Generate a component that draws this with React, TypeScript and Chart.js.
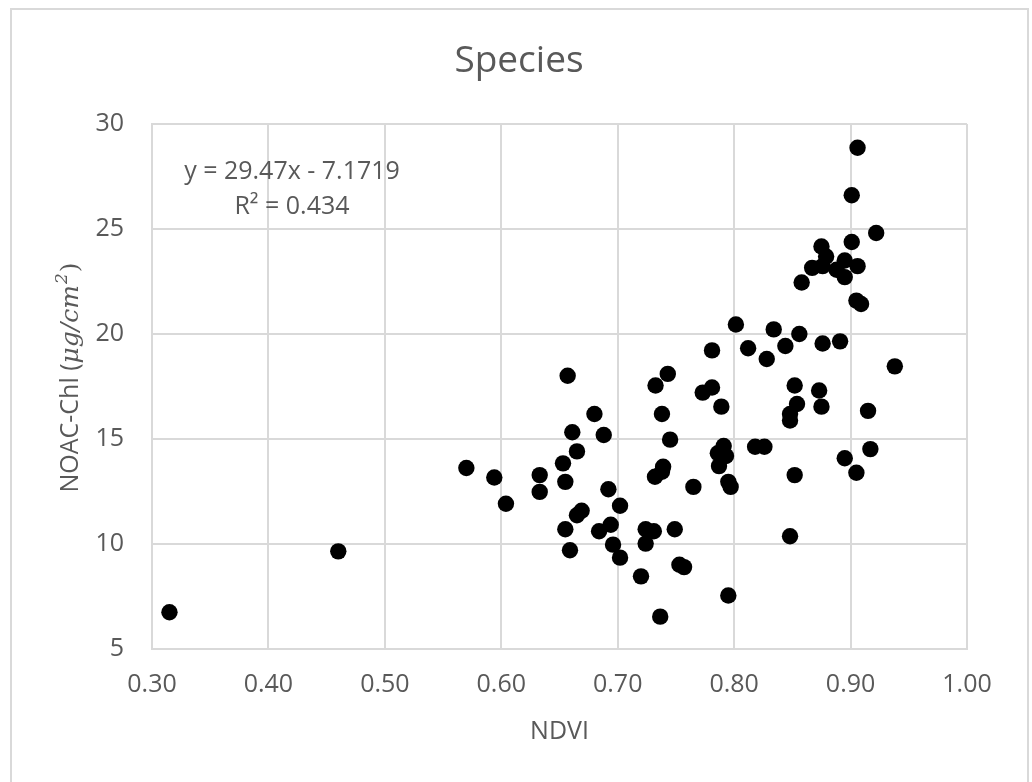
import React, { useEffect, useRef } from "react";
import { Chart, registerables } from "chart.js";

Chart.register(...registerables);

// ---- data ----
const ndvi: number[] = [
  0.315, 0.46, 0.57, 0.594, 0.604, 0.633, 0.633, 0.657, 0.68, 0.661,
  0.688, 0.665, 0.653, 0.655, 0.692, 0.702, 0.669, 0.665, 0.655, 0.684,
  0.694, 0.659, 0.696, 0.702, 0.72, 0.724, 0.731, 0.724, 0.749, 0.753,
  0.757, 0.7365, 0.795, 0.732, 0.738, 0.739, 0.765, 0.791, 0.786, 0.793,
  0.787, 0.795, 0.797, 0.818, 0.826, 0.895, 0.917, 0.905, 0.852, 0.848,
  0.743, 0.7325, 0.781, 0.773, 0.789, 0.852, 0.873, 0.854, 0.875, 0.848,
  0.848, 0.915, 0.738, 0.745, 0.938, 0.781, 0.812, 0.844, 0.876, 0.891,
  0.828, 0.8015, 0.834, 0.856, 0.906, 0.901, 0.922, 0.901, 0.875, 0.879,
  0.895, 0.906, 0.867, 0.876, 0.888, 0.895, 0.858, 0.905, 0.909,
];
const noac: number[] = [
  6.75, 9.65, 13.62, 13.17, 11.92, 13.28, 12.48, 18.01, 16.19, 15.32,
  15.19, 14.41, 13.84, 12.96, 12.61, 11.82, 11.58, 11.37, 10.7, 10.61,
  10.92, 9.7, 9.97, 9.35, 8.46, 10.7, 10.61, 10.02, 10.7, 9.01,
  8.9, 6.54, 7.55, 13.2, 13.44, 13.68, 12.72, 14.67, 14.32, 14.19,
  13.71, 12.96, 12.72, 14.63, 14.63, 14.08, 14.52, 13.39, 13.28, 10.37,
  18.1, 17.55, 17.45, 17.21, 16.54, 17.55, 17.31, 16.67, 16.54, 16.19,
  15.88, 16.34, 16.19, 14.97, 18.46, 19.22, 19.32, 19.43, 19.55, 19.65,
  18.81, 20.45, 20.22, 20.0, 28.87, 26.61, 24.81, 24.38, 24.17, 23.69,
  23.5, 23.23, 23.15, 23.23, 23.06, 22.71, 22.45, 21.59, 21.43,
];
const xTickValues: number[] = [0.3, 0.4, 0.5, 0.6, 0.7, 0.8, 0.9, 1.0];
const yTickValues: number[] = [5, 10, 15, 20, 25, 30];

const titleText = "Species";
const xTitleText = "NDVI";
const yTitlePlain = "NOAC-Chl (";
const yTitleMath = "μg/cm";
const yTitleSup = "2";
const yTitleClose = ")";
const equationLines: string[] = ["y = 29.47x - 7.1719", "R² = 0.434"];

const FONT = "'Open Sans', sans-serif";
const TEXT = "#595959";
const GRID = "#d9d9d9";

const decorPlugin = {
  id: "decor",
  beforeDraw(chart: any) {
    const ctx = chart.ctx;
    ctx.save();
    ctx.fillStyle = "#ffffff";
    ctx.fillRect(0, 0, chart.width, chart.height);
    ctx.strokeStyle = GRID;
    ctx.lineWidth = 2;
    ctx.strokeRect(11, 9, 1017, 800);
    ctx.restore();
  },
  afterDraw(chart: any) {
    const ctx = chart.ctx;
    ctx.save();
    ctx.fillStyle = TEXT;
    ctx.textBaseline = "alphabetic";
    ctx.textAlign = "center";
    ctx.font = `37px ${FONT}`;
    ctx.fillText(titleText, 519, 72);

    ctx.font = `25px ${FONT}`;
    ctx.fillText(equationLines[0], 292, 179);
    ctx.fillText(equationLines[1], 292, 214);

    // y-axis title with math part
    ctx.textAlign = "left";
    const fPlain = `25px ${FONT}`;
    const fMath = `italic 25px 'DejaVu Serif', serif`;
    const fSup = `italic 17px 'DejaVu Serif', serif`;
    const fClose = `25px 'DejaVu Serif', serif`;
    ctx.font = fPlain;
    const w1 = ctx.measureText(yTitlePlain).width;
    ctx.font = fMath;
    const w2 = ctx.measureText(yTitleMath).width;
    ctx.font = fSup;
    const w3 = ctx.measureText(yTitleSup).width + 2;
    ctx.font = fClose;
    const w4 = ctx.measureText(yTitleClose).width;
    const total = w1 + w2 + w3 + w4;
    const midY = (chart.chartArea.top + chart.chartArea.bottom) / 2 - 9;
    ctx.translate(78, midY);
    ctx.rotate(-Math.PI / 2);
    let x = -total / 2;
    ctx.font = fPlain;
    ctx.fillText(yTitlePlain, x, 0);
    x += w1;
    ctx.font = fMath;
    ctx.fillText(yTitleMath, x, 0);
    x += w2;
    ctx.font = fSup;
    ctx.fillText(yTitleSup, x + 1, -11);
    x += w3;
    ctx.font = fClose;
    ctx.fillText(yTitleClose, x, 0);
    ctx.restore();
  },
};

export default function App() {
  const canvasRef = useRef<HTMLCanvasElement | null>(null);

  useEffect(() => {
    if (!canvasRef.current) return;
    const points = ndvi.map((v, i) => ({ x: v, y: noac[i] }));
    const chart = new Chart(canvasRef.current, {
      type: "scatter",
      data: {
        datasets: [
          {
            label: "Species",
            data: points,
            backgroundColor: "#000000",
            borderColor: "#000000",
            borderWidth: 0,
            pointRadius: 8.2,
            pointHoverRadius: 8.2,
          },
        ],
      },
      options: {
        animation: false,
        responsive: true,
        maintainAspectRatio: false,
        layout: { padding: { left: 0, top: 124, right: 65, bottom: 0 } },
        plugins: {
          legend: { display: false },
          tooltip: { enabled: false },
          title: { display: false },
        },
        scales: {
          x: {
            type: "linear",
            min: 0.3,
            max: 1.0,
            afterBuildTicks: (axis: any) => {
              axis.ticks = xTickValues.map((v) => ({ value: v }));
            },
            afterFit: (axis: any) => {
              axis.height = 133;
            },
            ticks: {
              callback: (v: any) => Number(v).toFixed(2),
              font: { family: FONT, size: 25 },
              color: TEXT,
              padding: 21,
              maxRotation: 0,
              autoSkip: false,
            },
            grid: { color: GRID, lineWidth: 2, drawTicks: false },
            border: { color: GRID, width: 2 },
            title: {
              display: true,
              text: xTitleText,
              font: { family: FONT, size: 25 },
              color: TEXT,
              padding: { top: 0, bottom: 35 },
            },
          },
          y: {
            type: "linear",
            min: 5,
            max: 30,
            afterBuildTicks: (axis: any) => {
              axis.ticks = yTickValues.map((v) => ({ value: v }));
            },
            afterFit: (axis: any) => {
              axis.width = 152;
            },
            ticks: {
              font: { family: FONT, size: 25 },
              color: TEXT,
              padding: 28,
              autoSkip: false,
            },
            grid: { color: GRID, lineWidth: 2, drawTicks: false },
            border: { color: GRID, width: 2 },
          },
        },
      },
      plugins: [decorPlugin],
    } as any);
    return () => chart.destroy();
  }, []);

  return (
    <div
      style={{
        position: "absolute",
        left: 0,
        top: 0,
        width: 1032,
        height: 782,
        background: "#ffffff",
      }}
    >
      <canvas ref={canvasRef} />
    </div>
  );
}
